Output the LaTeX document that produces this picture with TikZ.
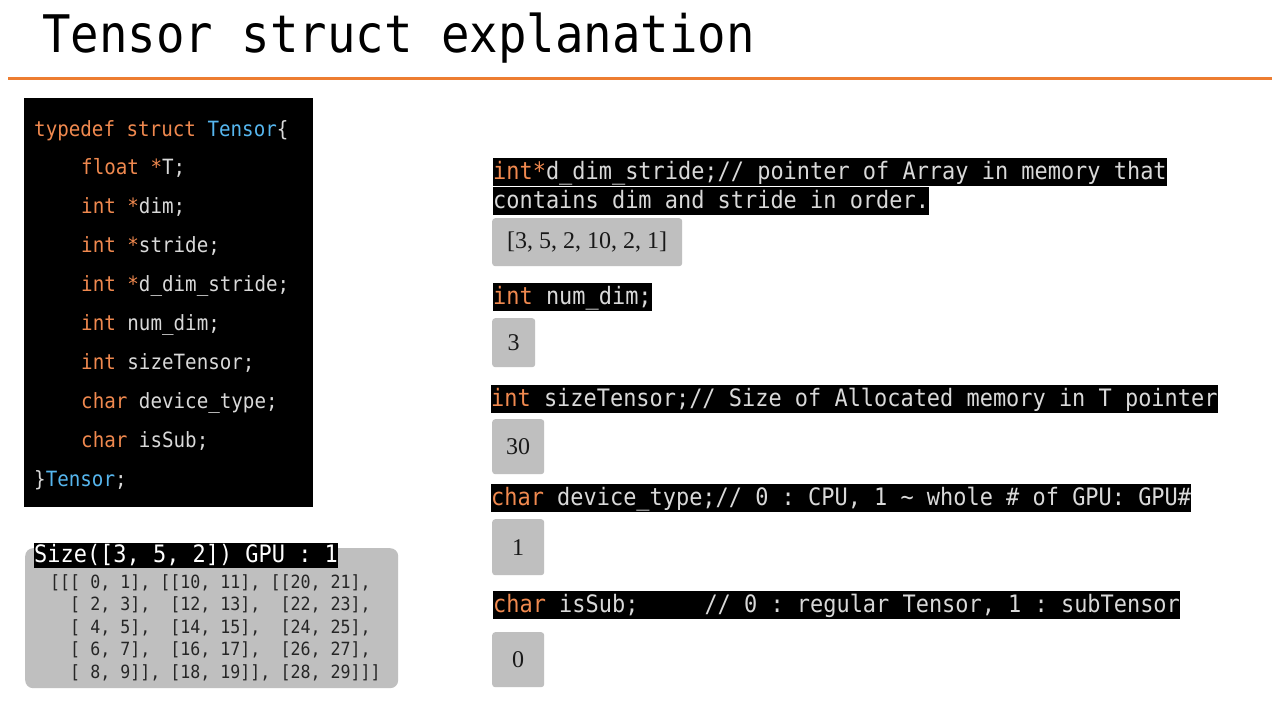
\documentclass[tikz,border=0pt]{standalone}
\usepackage{fontspec}
\setmainfont{Liberation Serif}
\newfontfamily\codefont[FakeStretch=0.914]{DejaVu Sans Mono}
\usetikzlibrary{positioning}
\definecolor{accent}{HTML}{ED7D31}
\definecolor{kwOrange}{HTML}{F0894F}
\definecolor{typeBlue}{HTML}{56B6EE}
\definecolor{codeText}{HTML}{D9D9D9}
\definecolor{valGray}{HTML}{BFBFBF}
\definecolor{arrText}{HTML}{262626}
\newcommand{\kw}[1]{\textcolor{kwOrange}{#1}}
\newcommand{\ty}[1]{\textcolor{typeBlue}{#1}}

\begin{document}
\frenchspacing
\begin{tikzpicture}[x=1pt,y=-1pt,
  codeline/.style={anchor=base west,inner sep=0pt,text=codeText,
    font=\codefont\fontsize{21}{25}\selectfont},
  hlbar/.style={anchor=west,fill=black,text=codeText,inner xsep=0pt,inner ysep=2.75pt,
    text height=18.5pt,text depth=4pt,font=\codefont\fontsize{24}{28}\selectfont},
  valbox/.style={anchor=north west,fill=valGray,rounded corners=3pt,inner sep=0pt,
    text=black!90,font=\fontsize{24}{28}\selectfont},
  arrline/.style={anchor=base west,inner sep=0pt,text=arrText,
    font=\codefont\fontsize{18.2}{22}\selectfont}]
  \fill[white] (0,0) rectangle (1280,720);
  \useasboundingbox (0,0) rectangle (1280,720);

  % title
  \node[anchor=base west,inner sep=0pt,font=\codefont\fontsize{51.8}{60}\selectfont]
    (title) at (42,52) {Tensor struct explanation};
  \draw[accent,line width=3pt] (8,78) -- (1272,78);

  % struct definition
  \node[fill=black,anchor=north west,inner sep=0pt,minimum width=289,minimum height=409]
    (codebox) at (24,98) {};
  \foreach \ln/\xx [count=\i from 0] in {
      {\kw{typedef struct}~\ty{Tensor}\{}/34,
      {\kw{float *}T;}/81,
      {\kw{int *}dim;}/81,
      {\kw{int *}stride;}/81,
      {\kw{int *}d\_dim\_stride;}/81,
      {\kw{int} num\_dim;}/81,
      {\kw{int} sizeTensor;}/81,
      {\kw{char} device\_type;}/81,
      {\kw{char} isSub;}/81,
      {\}\ty{Tensor};}/34}
    \node[codeline] (code\i) at (\xx,136+38.9*\i) {\ln};

  % printed tensor
  \node[fill=valGray,rounded corners=8pt,anchor=north west,inner sep=0pt,
    minimum width=373,minimum height=140] (sizebox) at (25,548) {};
  \node[anchor=west,fill=black,text=white,inner xsep=0pt,inner ysep=2pt,
    text height=17pt,text depth=4pt,font=\codefont\fontsize{24}{28}\selectfont]
    (sizehdr) at (34,555.5) {Size([3,~5,~2])~GPU~:~1};
  \foreach \row [count=\r from 0] in {
      {[[[~0,~1],~[[10,~11],~[[20,~21],},
      {~~[~2,~3],~~[12,~13],~~[22,~23],},
      {~~[~4,~5],~~[14,~15],~~[24,~25],},
      {~~[~6,~7],~~[16,~17],~~[26,~27],},
      {~~[~8,~9]],~[18,~19]],~[28,~29]]]}}
    \node[arrline] (arr\r) at (50,588+22.6*\r) {\row};

  % members with values
  \node[hlbar] (dsline1) at (493,172)
    {\kw{int*}d\_dim\_stride;//~pointer~of~Array~in~memory~that~};
  \node[hlbar] (dsline2) at (493,201) {contains~dim~and~stride~in~order.};
  \node[valbox,minimum width=190,minimum height=48] (dsval) at (492,218) {[3, 5, 2, 10, 2, 1]};

  \node[hlbar] (ndline) at (493,297) {\kw{int}~num\_dim;};
  \node[valbox,minimum width=43,minimum height=49] (ndval) at (492,318) {3};

  \node[hlbar] (stline) at (491,399)
    {\kw{int}~sizeTensor;//~Size~of~Allocated~memory~in~T~pointer};
  \node[valbox,minimum width=52,minimum height=55] (stval) at (492,419) {30};

  \node[hlbar] (dtline) at (491,498)
    {\kw{char}~device\_type;//~0~:~CPU,~1~\textasciitilde~whole~\#~of~GPU:~GPU\#};
  \node[valbox,minimum width=52,minimum height=56] (dtval) at (492,519) {1};

  \node[hlbar] (isline) at (493,605)
    {\kw{char}~isSub;~~~~~//~0~:~regular~Tensor,~1~:~subTensor};
  \node[valbox,minimum width=52,minimum height=55] (isval) at (492,632) {0};
\end{tikzpicture}
\end{document}
